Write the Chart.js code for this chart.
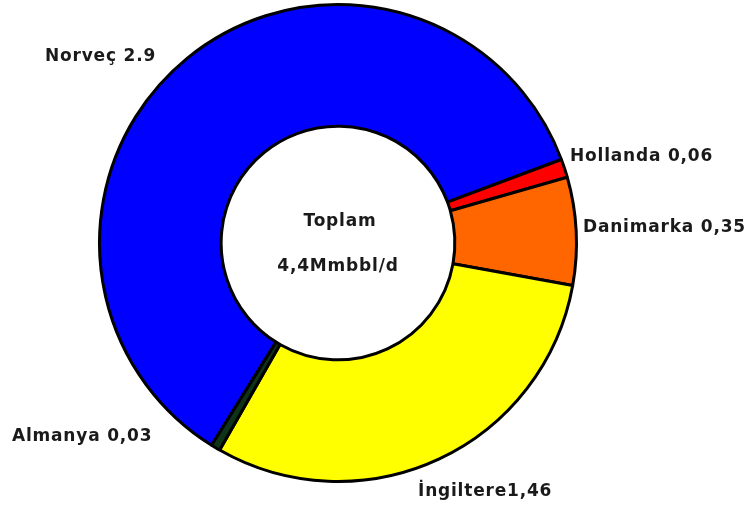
<!DOCTYPE html>
<html lang="tr">
<head>
<meta charset="UTF-8">
<script src="https://cdn.jsdelivr.net/npm/chart.js"></script>
<style>
  html, body { margin: 0; padding: 0; background: #ffffff; }
  #wrap { width: 751px; height: 511px; }
</style>
</head>
<body>
<div id="wrap"><canvas id="myChart" width="751" height="511"></canvas></div>
<script>
// Kuzey Denizi petrol üretimi (Mmbbl/d)
var countries = ['Norveç', 'Hollanda', 'Danimarka', 'İngiltere', 'Almanya'];
var production = [2.9, 0.06, 0.35, 1.46, 0.03];
var valueText = ['2.9', '0,06', '0,35', '1,46', '0,03'];
var separators = [' ', ' ', ' ', '', ' '];
var centerLines = ['Toplam', '4,4Mmbbl/d'];

var sliceColors = ['#0000ff', '#ff0000', '#ff6600', '#ffff00', '#0d3318'];

// where each outside label sits (left x, middle y)
var labelSpots = [[45, 57], [570, 157], [583, 228], [418, 492], [12, 437]];

var FONT = 'bold 17px "DejaVu Sans", Verdana, sans-serif';

var labelPlugin = {
    id: 'sliceLabels',
    afterDraw: function (chart) {
        var ctx = chart.ctx;
        var arc = chart.getDatasetMeta(0).data[0];
        ctx.save();
        ctx.font = FONT;
        ctx.letterSpacing = '0.8px';
        ctx.fillStyle = '#1a1a1a';
        ctx.textBaseline = 'middle';
        ctx.textAlign = 'left';
        for (var i = 0; i < countries.length; i++) {
            var txt = countries[i] + separators[i] + valueText[i];
            ctx.fillText(txt, labelSpots[i][0], labelSpots[i][1]);
        }
        // total in the hole
        ctx.textAlign = 'center';
        ctx.fillText(centerLines[0], arc.x + 2, arc.y - 21);
        ctx.fillText(centerLines[1], arc.x, arc.y + 24);
        ctx.restore();
    }
};

var ctx = document.getElementById('myChart').getContext('2d');
var myChart = new Chart(ctx, {
    type: 'doughnut',
    data: {
        labels: countries,
        datasets: [{
            data: production,
            backgroundColor: sliceColors,
            borderColor: '#000000',
            borderWidth: 3
        }]
    },
    options: {
        responsive: false,
        animation: false,
        rotation: -148,
        cutout: '49%',
        layout: { padding: { left: 98, right: 173, top: 3, bottom: 28 } },
        plugins: {
            legend: { display: false },
            tooltip: { enabled: false }
        }
    },
    plugins: [labelPlugin]
});
</script>
</body>
</html>
